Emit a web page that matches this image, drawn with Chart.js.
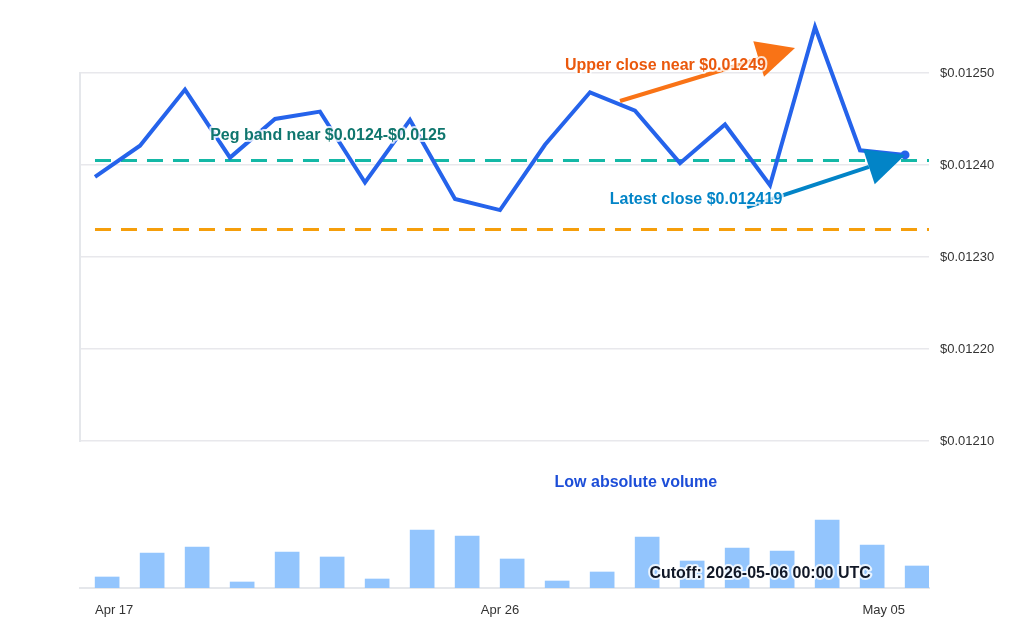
<!DOCTYPE html>
<html>
<head>
<meta charset="utf-8">
<script src="https://cdn.jsdelivr.net/npm/chart.js@4.4.1/dist/chart.umd.min.js"></script>
<style>
  html, body { margin: 0; padding: 0; background: #fff; }
  #wrap { position: relative; width: 1026px; height: 640px; }
  #price { position: absolute; left: 0; top: 0; }
  #volume { position: absolute; left: 0; top: 460px; }
</style>
</head>
<body>
<div id="wrap">
  <canvas id="price" width="1026" height="460"></canvas>
  <canvas id="volume" width="1026" height="180"></canvas>
</div>
<script>
// daily closes, Apr 17 -> May 05
const days = ['Apr 17', 'Apr 18', 'Apr 19', 'Apr 20', 'Apr 21', 'Apr 22', 'Apr 23', 'Apr 24', 'Apr 25', 'Apr 26',
              'Apr 27', 'Apr 28', 'Apr 29', 'Apr 30', 'May 01', 'May 02', 'May 03', 'May 04', 'May 05'];
const closes = [0.012387, 0.012421, 0.012482, 0.012408, 0.012450, 0.012458, 0.012381, 0.012449, 0.012363, 0.012351,
                0.012422, 0.012479, 0.012459, 0.012402, 0.012444, 0.012378, 0.012550, 0.012416, 0.012411];
const volumes = [11, 35, 41, 6, 36, 31, 9, 58, 52, 29, 7, 16, 51, 27, 40, 37, 68, 43, 22];
const tickDays = [0, 9, 18];
const priceTicks = [0.0121, 0.0125];

const pegLevel = 0.012405;
const lowLevel = 0.01233;

// x range of both panels (day index)
const xMin = -0.333;
const xMax = 18.533;
const barShift = 0.27;

const FONT = '"Liberation Sans", Arial, Helvetica, sans-serif';

function drawArrow(ctx, x1, y1, x2, y2, color) {
  const ang = Math.atan2(y2 - y1, x2 - x1);
  const headLen = 38, headHalf = 18.5;
  const bx = x2 - headLen * Math.cos(ang);
  const by = y2 - headLen * Math.sin(ang);
  ctx.save();
  ctx.strokeStyle = color;
  ctx.fillStyle = color;
  ctx.lineWidth = 4;
  ctx.beginPath();
  ctx.moveTo(x1, y1);
  ctx.lineTo(bx, by);
  ctx.stroke();
  ctx.beginPath();
  ctx.moveTo(x2, y2);
  ctx.lineTo(bx + headHalf * Math.sin(ang), by - headHalf * Math.cos(ang));
  ctx.lineTo(bx - headHalf * Math.sin(ang), by + headHalf * Math.cos(ang));
  ctx.closePath();
  ctx.fill();
  ctx.restore();
}

function drawNote(ctx, text, x, y, color) {
  ctx.save();
  ctx.font = 'bold 16px ' + FONT;
  ctx.textAlign = 'center';
  ctx.textBaseline = 'middle';
  ctx.lineJoin = 'round';
  ctx.strokeStyle = 'rgba(255,255,255,0.8)';
  ctx.lineWidth = 4;
  ctx.strokeText(text, x, y);
  ctx.fillStyle = color;
  ctx.fillText(text, x, y);
  ctx.restore();
}

const priceNotes = {
  id: 'priceNotes',
  afterDatasetsDraw(chart) {
    const { ctx, scales: { x, y } } = chart;
    const last = closes.length - 1;
    drawArrow(ctx, x.getPixelForValue(11.667), y.getPixelForValue(0.0124696),
      x.getPixelForValue(15.556), y.getPixelForValue(0.0125272), '#f97316');
    drawArrow(ctx, x.getPixelForValue(14.489), y.getPixelForValue(0.0123543),
      x.getPixelForValue(last), y.getPixelForValue(closes[last]), '#0284c7');
    drawNote(ctx, 'Peg band near $0.0124-$0.0125', x.getPixelForValue(5.178), y.getPixelForValue(0.0124315), '#0f766e');
    drawNote(ctx, 'Upper close near $0.01249', x.getPixelForValue(12.678), y.getPixelForValue(0.0125076), '#ea580c');
    drawNote(ctx, 'Latest close $0.012419', x.getPixelForValue(13.356), y.getPixelForValue(0.012362), '#0284c7');
  }
};

const volumeNotes = {
  id: 'volumeNotes',
  afterDatasetsDraw(chart) {
    const { ctx, scales: { x, y } } = chart;
    drawNote(ctx, 'Low absolute volume', x.getPixelForValue(12.02), y.getPixelForValue(105), '#1d4ed8');
    drawNote(ctx, 'Cutoff: 2026-05-06 00:00 UTC', x.getPixelForValue(14.78), y.getPixelForValue(14), '#111827');
  }
};

new Chart(document.getElementById('price'), {
  type: 'line',
  data: {
    datasets: [
      {
        label: 'Close',
        data: closes.map((v, i) => ({ x: i, y: v })),
        borderColor: '#2563eb',
        backgroundColor: '#2563eb',
        borderWidth: 4,
        tension: 0,
        pointRadius: ctx => ctx.dataIndex === closes.length - 1 ? 4.5 : 0,
        pointBorderWidth: 0,
        clip: false
      },
      {
        label: 'Peg',
        data: [{ x: 0, y: pegLevel }, { x: xMax, y: pegLevel }],
        borderColor: '#14b8a6',
        borderWidth: 3,
        borderDash: [16, 10],
        pointRadius: 0
      },
      {
        label: 'Lower',
        data: [{ x: 0, y: lowLevel }, { x: xMax, y: lowLevel }],
        borderColor: '#f59e0b',
        borderWidth: 3,
        borderDash: [16, 10],
        pointRadius: 0
      }
    ]
  },
  options: {
    responsive: false,
    animation: false,
    layout: { padding: { left: 80, top: 73, right: 0, bottom: 19 } },
    plugins: { legend: { display: false }, tooltip: { enabled: false } },
    scales: {
      x: { type: 'linear', min: xMin, max: xMax, display: false },
      y: {
        position: 'right',
        min: priceTicks[0],
        max: priceTicks[1],
        ticks: {
          stepSize: 0.0001,
          padding: 11,
          color: '#333',
          font: { family: FONT, size: 13 },
          callback: v => '$' + Number(v).toFixed(5)
        },
        grid: { color: '#e8e8ec', lineWidth: 1.5, drawTicks: false },
        border: { display: false },
        afterFit: s => { s.width = 97; }
      },
      yLeft: {
        position: 'left',
        ticks: { display: false },
        grid: { display: false, drawTicks: false },
        border: { display: true, color: '#e5e7eb', width: 2 },
        afterFit: s => { s.width = 0; }
      }
    }
  },
  plugins: [priceNotes]
});

new Chart(document.getElementById('volume'), {
  type: 'bar',
  data: {
    datasets: [{
      label: 'Volume',
      data: volumes.map((v, i) => ({ x: i + barShift, y: v })),
      backgroundColor: '#93c5fd',
      barThickness: 24
    }]
  },
  options: {
    responsive: false,
    animation: false,
    layout: { padding: { left: 80, top: 28, right: 97, bottom: 0 } },
    plugins: { legend: { display: false }, tooltip: { enabled: false } },
    scales: {
      x: {
        type: 'linear',
        min: xMin,
        max: xMax,
        offset: false,
        afterBuildTicks: s => { s.ticks = tickDays.map(v => ({ value: v })); },
        ticks: {
          callback: v => days[v],
          align: 'inner',
          autoSkip: false,
          maxRotation: 0,
          padding: 15,
          color: '#333',
          font: { family: FONT, size: 13 }
        },
        grid: { display: false, drawTicks: false, offset: false },
        border: { display: true, color: '#e5e7eb', width: 2 },
        afterFit: s => { s.height = 52; }
      },
      y: { display: false, min: 0, max: 100 }
    }
  },
  plugins: [volumeNotes]
});
</script>
</body>
</html>
